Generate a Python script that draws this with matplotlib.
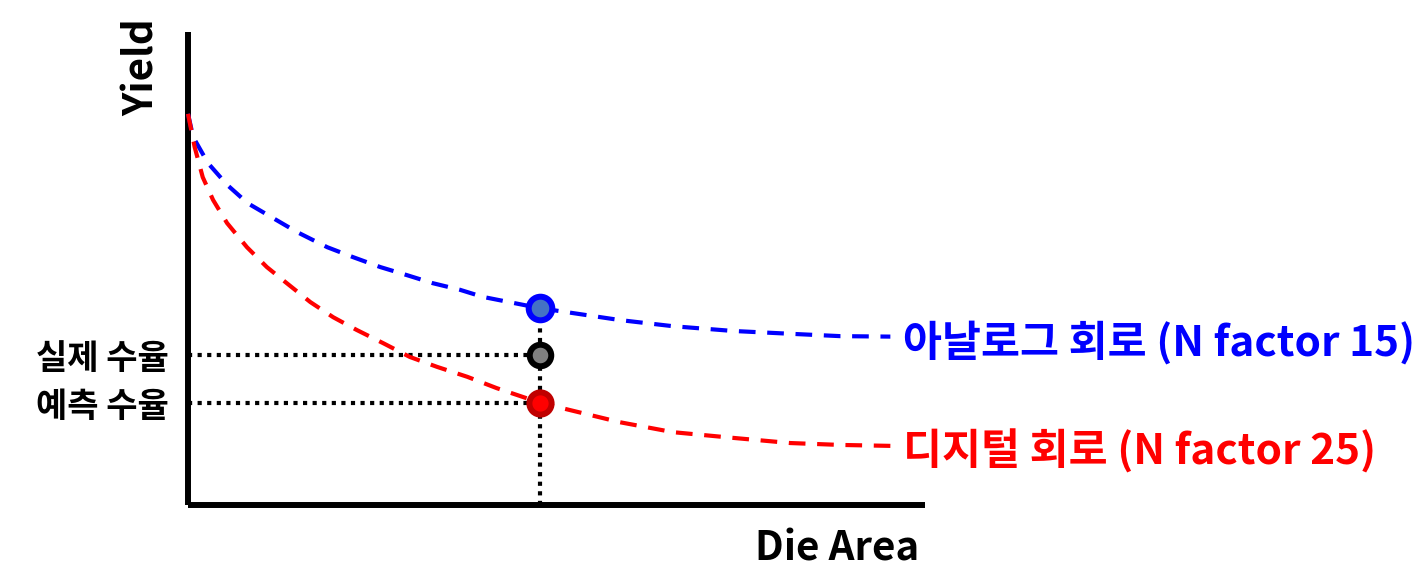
import matplotlib
matplotlib.use("Agg")
import matplotlib.pyplot as plt

plt.rcParams['font.family'] = ['Noto Sans CJK KR', 'DejaVu Sans']

# yield curves (x: die area, y: yield, both 0..100)
analog_area = [0, 0.7, 2.7, 5.3, 8.1, 11.5, 14.8, 18.9, 22.4, 26.1, 29.7, 33.2,
               36.9, 40.0, 47.8, 58.6, 65.8, 73.9, 81.7, 88.5, 95.3]
analog_yield = [82.7, 77.8, 72.3, 67.7, 63.8, 60.7, 57.7, 54.5, 52.4, 50.3, 48.6,
                46.9, 45.5, 44.0, 41.6, 39.1, 37.8, 36.8, 36.2, 35.7, 35.6]
digital_area = [0, 0.9, 2.0, 3.4, 5.3, 8.0, 10.7, 13.4, 16.6, 19.7, 22.9, 26.5,
                30.1, 33.8, 37.9, 41.9, 47.8, 58.6, 65.8, 73.9, 81.7, 88.5, 95.3]
digital_yield = [82.7, 75.7, 69.3, 64.5, 59.6, 54.5, 50.3, 46.9, 42.9, 39.7, 37.0,
                 34.2, 31.3, 29.2, 27.1, 24.7, 21.6, 17.5, 15.4, 14.2, 13.1, 12.7, 12.5]

target_area = 47.8
analog_point = 41.6
actual_yield = 31.7
predicted_yield = 21.6

ylabels = ['예측 수율', '실제 수율']
analog_label = '아날로그 회로 (N factor 15)'
digital_label = '디지털 회로 (N factor 25)'

fig = plt.figure(figsize=(14.23, 5.80), dpi=100)
ax = fig.add_axes([188 / 1423, 75 / 580, 737 / 1423, 473 / 580])
ax.set_xlim(0, 100)
ax.set_ylim(0, 100)

for s in ['top', 'right']:
    ax.spines[s].set_visible(False)
for s in ['left', 'bottom']:
    ax.spines[s].set_linewidth(4.3)
    ax.spines[s].set_capstyle('butt')

dot = (0, (1, 1.3))
ax.plot([0, target_area], [actual_yield, actual_yield], color='black', lw=3, ls=dot, zorder=2)
ax.plot([0, target_area], [predicted_yield, predicted_yield], color='black', lw=3, ls=dot, zorder=2)
ax.plot([target_area, target_area], [0, analog_point], color='black', lw=3, ls=dot, zorder=2)

dash = (0, (4, 2.8))
ax.plot(analog_area, analog_yield, color='#0000ff', lw=3, ls=dash, clip_on=False, zorder=3)
ax.plot(digital_area, digital_yield, color='#ff0000', lw=3, ls=dash, clip_on=False, zorder=3)

ax.plot(target_area, analog_point, 'o', ms=17, mfc='#4472c4', mec='#0000ff', mew=4.3, zorder=5)
ax.plot(target_area, actual_yield, 'o', ms=15.5, mfc='#808080', mec='black', mew=4.3, zorder=5)
ax.plot(target_area, predicted_yield, 'o', ms=16, mfc='#ff0000', mec='#c00000', mew=4.3, zorder=5)

# curve labels sit just right of the curve ends, a touch lower
drop = 1.2
ax.text(97, analog_yield[-1] - drop, analog_label, color='#0000ff', fontsize=30.5,
        fontweight='bold', ha='left', va='center', clip_on=False)
ax.text(97, digital_yield[-1] - drop, digital_label, color='#ff0000', fontsize=30.5,
        fontweight='bold', ha='left', va='center', clip_on=False)

ax.set_xticks([])
ax.set_yticks([predicted_yield, actual_yield])
ax.set_yticklabels(ylabels, fontsize=24.5, fontweight='bold')
ax.tick_params(axis='y', length=0, pad=14)

ax.text(0.992, -0.093, 'Die Area', transform=ax.transAxes, fontsize=29,
        fontweight='bold', ha='right', va='center')
ax.text(-0.062, 0.926, 'Yield', transform=ax.transAxes, fontsize=29,
        fontweight='bold', ha='center', va='center', rotation=90)

fig.savefig('out.png', dpi=100)
